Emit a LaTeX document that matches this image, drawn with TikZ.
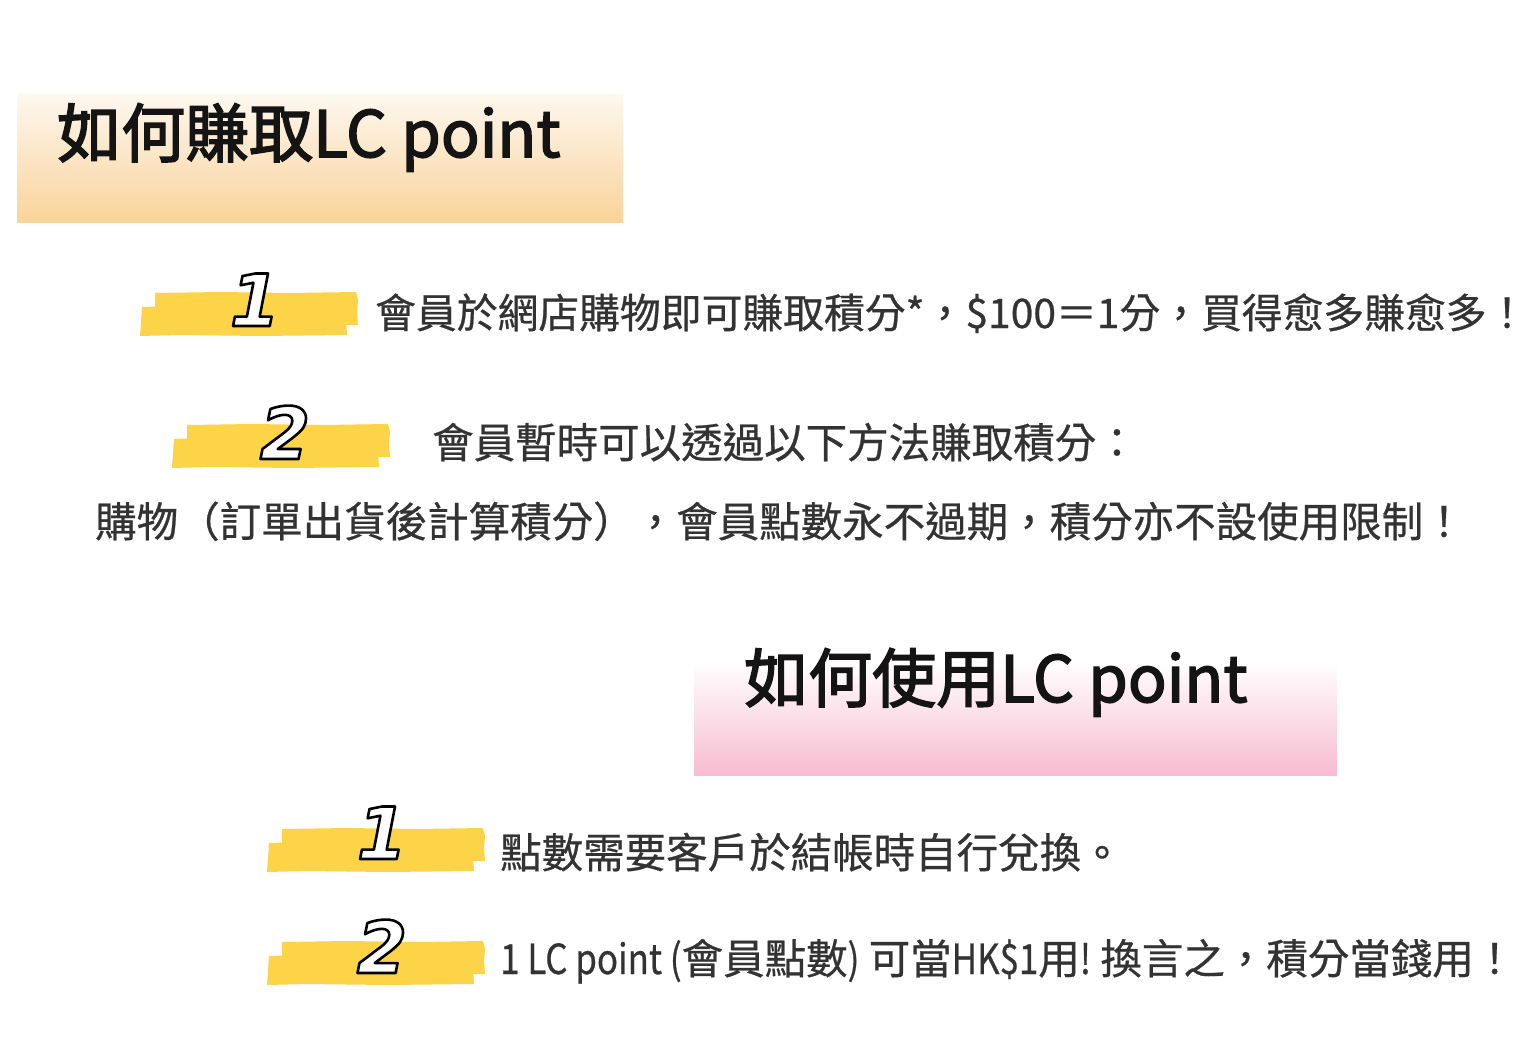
\documentclass[tikz,border=0pt]{standalone}
\usepackage{fontspec}
\usepackage{graphicx}
\setmainfont{Noto Sans CJK TC}
\newfontfamily\cjk{Noto Sans CJK TC}[FakeBold=0.6]
\newfontfamily\cjkt{Noto Sans CJK TC}[FakeBold=2.4]
\newfontfamily\digitfont{DejaVu Sans}
\definecolor{mk}{HTML}{FDD447}
\definecolor{txt}{HTML}{333333}
\definecolor{orA}{HTML}{FDF7EE}
\definecolor{orB}{HTML}{F9D39B}
\definecolor{pkA}{HTML}{FCE3EC}
\definecolor{pkB}{HTML}{F7BCD1}
\newcommand\outl[1]{\special{pdf:literal direct 2 Tr 2.6 w 0 0 0 RG 1 j}#1\special{pdf:literal direct 0 Tr}}
\newcommand\narrow[1]{\scalebox{0.84}[1]{#1}}
\tikzset{
  body/.style={anchor=base west, inner sep=0pt, text=txt, font=\cjk\fontsize{41.5}{46}\selectfont},
  ttl/.style={anchor=base west, inner sep=0pt, text=black!92, font=\cjkt\fontsize{64}{70}\selectfont},
  dig/.style={anchor=base, inner sep=0pt, font=\digitfont\bfseries\itshape\fontsize{72}{78}\selectfont},
  marker/.pic={
    \fill[mk] (15,1) -- (80,0) -- (150,1) -- (216,0) -- (218,8) -- (217,20) -- (218,33) -- (150,34) -- (60,33) -- (15,34) -- cycle;
    \fill[mk] (2,15) -- (60,13) -- (140,14) -- (205,13) -- (206,28) -- (207,43) -- (120,44) -- (40,43) -- (0,44) -- (1,30) -- cycle;
  }
}
\newcommand\mkdigit[3]{%
  \node[dig,text=white] (#1) at #2 {\outl{#3}};
}
\begin{document}
\begin{tikzpicture}[x=1pt,y=-1pt]
\useasboundingbox (0,0) rectangle (1538,1046);
\fill[white] (0,0) rectangle (1538,1046);

% title 1
\shade[top color=orA, bottom color=orB] (17,95) rectangle (623,222);
\node[ttl] (tA) at (57,157) {如何賺取LC point};

% section 1 items
\pic at (140,292) {marker};
\mkdigit{dA}{(255,326)}{1}
\node[body, font=\cjk\fontsize{40.8}{46}\selectfont] (l1) at (375,328) {會員於網店購物即可賺取積分*，\$100＝1分，買得愈多賺愈多！};

\pic at (172,424) {marker};
\mkdigit{dB}{(285,459)}{2}
\node[body] (l2) at (432,458) {會員暫時可以透過以下方法賺取積分：};
\node[body] (l3) at (95,537) {購物（訂單出貨後計算積分），會員點數永不過期，積分亦不設使用限制！};

% title 2
\shade[top color=white, middle color=pkA, bottom color=pkB] (694,660) rectangle (1337,775);
\node[ttl] (tB) at (744,702) {如何使用LC point};

% section 2 items
\pic at (267,828) {marker};
\mkdigit{dC}{(382,859)}{1}
\node[body] (l4) at (500,868) {點數需要客戶於結帳時自行兌換。};

\pic at (267,941) {marker};
\mkdigit{dD}{(382,973)}{2}
\node[body] (l5) at (500,974) {\narrow{1 LC point (}會員點數\narrow{)} 可當\narrow{HK\$1}用\narrow{!} 換言之，積分當錢用！};
\end{tikzpicture}
\end{document}
